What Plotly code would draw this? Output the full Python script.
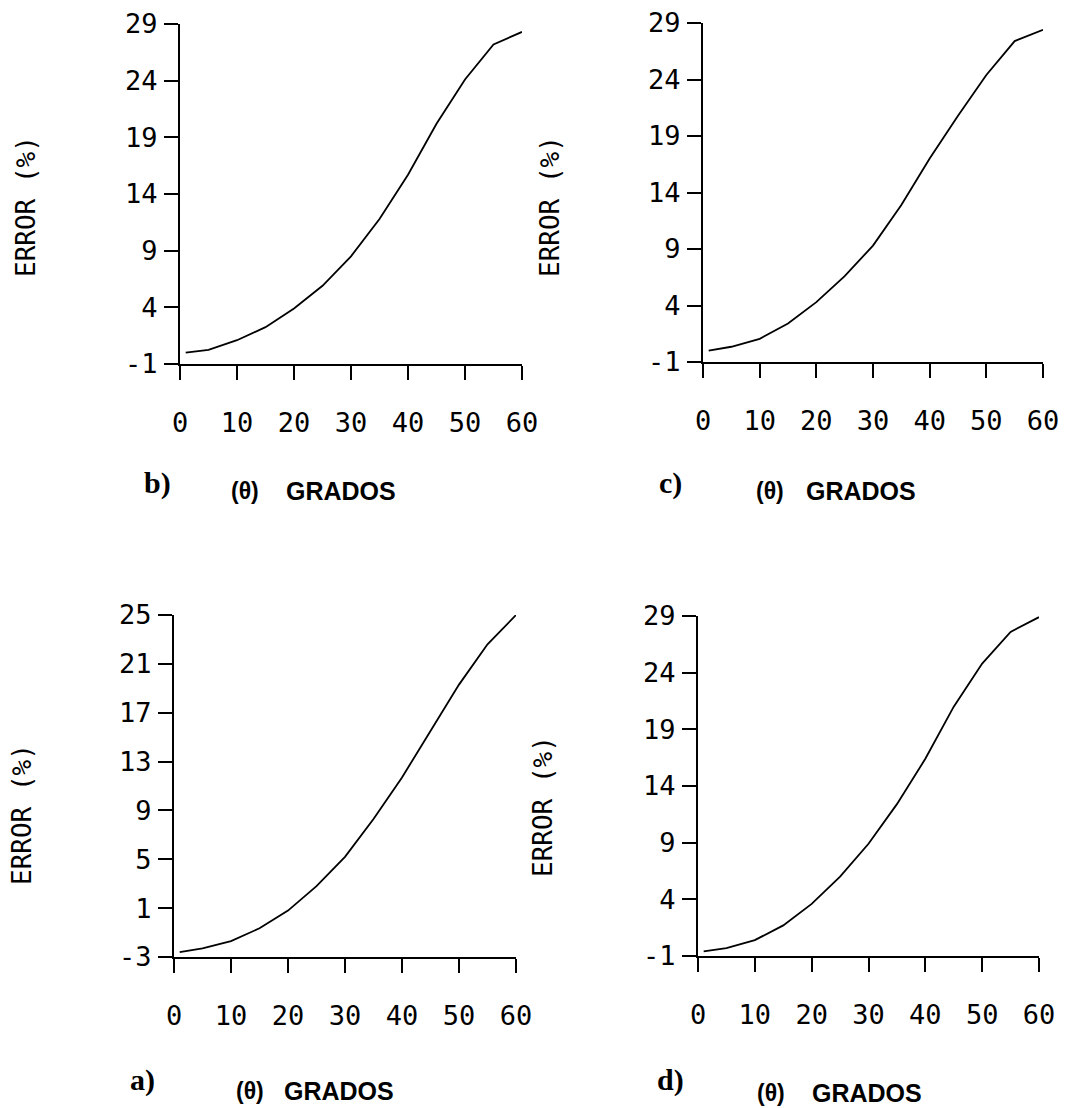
import plotly.graph_objects as go

# ---------------- data ----------------
theta = [1, 5, 10, 15, 20, 25, 30, 35, 40, 45, 50, 55, 60]
error_a = [-2.6, -2.3, -1.7, -0.65, 0.8, 2.8, 5.2, 8.3, 11.7, 15.5, 19.3, 22.6, 25.0]
error_b = [0.0, 0.25, 1.1, 2.25, 3.9, 5.9, 8.5, 11.8, 15.7, 20.2, 24.1, 27.2, 28.3]
error_c = [0.0, 0.35, 1.05, 2.4, 4.3, 6.6, 9.3, 12.9, 17.0, 20.8, 24.4, 27.4, 28.4]
error_d = [-0.6, -0.3, 0.4, 1.7, 3.6, 6.0, 8.9, 12.4, 16.4, 21.0, 24.8, 27.6, 28.9]

x_tickvals = [0, 10, 20, 30, 40, 50, 60]
x_ticktext = ["0", "10", "20", "30", "40", "50", "60"]
y_tickvals_bcd = [-1, 4, 9, 14, 19, 24, 29]
y_ticktext_bcd = ["-1", "4", "9", "14", "19", "24", "29"]
y_tickvals_a = [-3, 1, 5, 9, 13, 17, 21, 25]
y_ticktext_a = ["-3", "1", "5", "9", "13", "17", "21", "25"]

panel_names = ["b)", "c)", "a)", "d)"]
y_title = "ERROR (%)"
theta_label = "(θ)"
x_title = "GRADOS"

# ---------------- layout helpers ----------------
W, H = 1069, 1108


def px(x):
    return x / W


def py(y):
    return 1 - y / H


# panel boxes in pixels: (left, right, top, bottom)
boxes = [
    (180, 522, 24, 364),   # b
    (703, 1043, 23, 362),  # c
    (174, 516, 615, 957),  # a
    (698, 1039, 616, 956), # d
]
series = [error_b, error_c, error_a, error_d]
yticks = [y_tickvals_bcd, y_tickvals_bcd, y_tickvals_a, y_tickvals_bcd]
ytext = [y_ticktext_bcd, y_ticktext_bcd, y_ticktext_a, y_ticktext_bcd]
yranges = [[-1, 29], [-1, 29], [-3, 25], [-1, 29]]

# label positions (pixels)
ytitle_pos = [(26, 207), (550, 207), (22, 815), (543, 807)]
name_pos = [(157, 483), (670, 483), (142, 1080), (670, 1080)]
theta_pos = [(245, 491), (770, 491), (250, 1091), (771, 1093)]
grados_pos = [(341, 491), (861, 491), (339, 1091), (867, 1093)]

tick_font = dict(family="DejaVu Sans Mono", size=27, color="black")

fig = go.Figure()
annotations = []
for i in range(4):
    l, r, t, b = boxes[i]
    xa = "xaxis" if i == 0 else f"xaxis{i+1}"
    ya = "yaxis" if i == 0 else f"yaxis{i+1}"
    xref = "x" if i == 0 else f"x{i+1}"
    yref = "y" if i == 0 else f"y{i+1}"
    fig.add_trace(go.Scatter(x=theta, y=series[i], mode="lines",
                             line=dict(color="black", width=1.8),
                             xaxis=xref, yaxis=yref, showlegend=False,
                             hoverinfo="x+y"))
    fig.layout[xa] = dict(domain=[px(l), px(r)], range=[0, 60], anchor=yref,
                          tickvals=x_tickvals, ticktext=x_ticktext,
                          ticks="outside", ticklen=14, tickwidth=2, tickcolor="black",
                          showline=True, linecolor="black", linewidth=2,
                          showgrid=False, zeroline=False, tickfont=tick_font,
                          ticklabelstandoff=20, fixedrange=True, automargin=False)
    fig.layout[ya] = dict(domain=[py(b), py(t)], range=yranges[i], anchor=xref,
                          tickvals=yticks[i], ticktext=ytext[i],
                          ticks="outside", ticklen=14, tickwidth=2, tickcolor="black",
                          showline=True, linecolor="black", linewidth=2,
                          showgrid=False, zeroline=False, tickfont=tick_font,
                          ticklabelstandoff=1, fixedrange=True, automargin=False)
    annotations.append(dict(text=y_title, x=px(ytitle_pos[i][0]), y=py(ytitle_pos[i][1]),
                            xref="paper", yref="paper", showarrow=False, textangle=-90,
                            xanchor="center", yanchor="middle",
                            font=dict(family="DejaVu Sans Mono", size=26, color="black")))
    annotations.append(dict(text=panel_names[i], x=px(name_pos[i][0]), y=py(name_pos[i][1]),
                            xref="paper", yref="paper", showarrow=False,
                            xanchor="center", yanchor="middle",
                            font=dict(family="Liberation Serif", size=30, color="black",
                                      weight="bold")))
    annotations.append(dict(text=theta_label, x=px(theta_pos[i][0]), y=py(theta_pos[i][1]),
                            xref="paper", yref="paper", showarrow=False,
                            xanchor="center", yanchor="middle",
                            font=dict(family="Liberation Sans", size=23, color="black",
                                      weight="bold")))
    annotations.append(dict(text=x_title, x=px(grados_pos[i][0]), y=py(grados_pos[i][1]),
                            xref="paper", yref="paper", showarrow=False,
                            xanchor="center", yanchor="middle",
                            font=dict(family="Liberation Sans", size=25, color="black",
                                      weight="bold")))

fig.update_layout(width=W, height=H, margin=dict(l=0, r=0, t=0, b=0, autoexpand=False),
                  paper_bgcolor="white", plot_bgcolor="white",
                  annotations=annotations, showlegend=False)

fig.write_html("out.html", config={"displayModeBar": False},
               post_script="document.body.style.margin='0px';"
                           "document.body.style.overflow='hidden';")
